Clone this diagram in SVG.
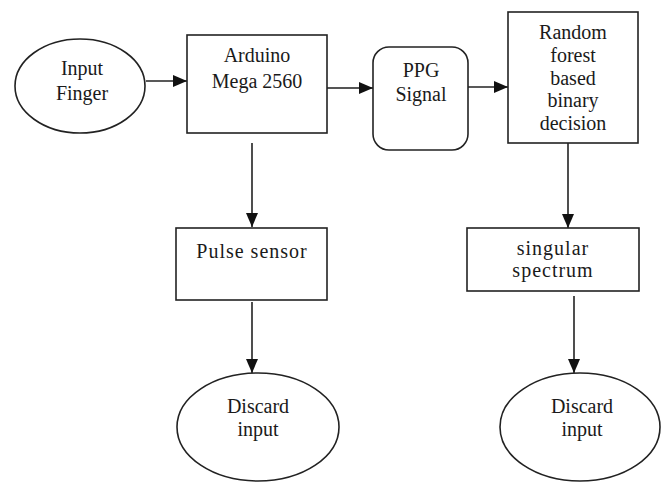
<svg xmlns="http://www.w3.org/2000/svg" width="668" height="482" viewBox="0 0 668 482">
<style>
.shape{fill:#fff;stroke:#222;stroke-width:1.6}
text{font-family:'Liberation Serif','DejaVu Serif',serif;font-size:20px;fill:#1a1a1a;text-anchor:middle}
.ls{letter-spacing:1px}
.c{fill:none;stroke:#222;stroke-width:1.6}
</style>
<defs>
<marker id="ah" markerUnits="userSpaceOnUse" markerWidth="14" markerHeight="14" viewBox="0 0 14 14" refX="14" refY="7" orient="auto">
<path d="M0,1 L14,7 L0,13 Z" fill="#111"/>
</marker>
</defs>
<rect width="668" height="482" fill="#fff"/>
<g id="connectors">
<line class="c" x1="146" y1="81" x2="187" y2="81" marker-end="url(#ah)"/>
<line class="c" x1="327" y1="88" x2="373" y2="88" marker-end="url(#ah)" style="stroke:#555;stroke-width:2"/>
<line class="c" x1="468" y1="87" x2="508" y2="87" marker-end="url(#ah)"/>
<line class="c" x1="252" y1="143" x2="252" y2="227" marker-end="url(#ah)"/>
<line class="c" x1="568" y1="143" x2="568" y2="228" marker-end="url(#ah)"/>
<line class="c" x1="252" y1="302" x2="252" y2="373" marker-end="url(#ah)"/>
<line class="c" x1="574" y1="296" x2="574" y2="373" marker-end="url(#ah)"/>
</g>
<g id="input-finger">
<ellipse class="shape" cx="80" cy="86" rx="65" ry="47"/>
<text x="82" y="75" font-family="Liberation Serif, serif">Input</text>
<text x="82" y="100" font-family="Liberation Serif, serif">Finger</text>
</g>
<g id="arduino">
<rect class="shape" x="187" y="35" width="140" height="98"/>
<text x="257" y="62">Arduino</text>
<text x="257" y="88">Mega 2560</text>
</g>
<g id="ppg-signal">
<rect class="shape" x="373" y="47" width="95" height="103" rx="16" ry="16"/>
<text x="421" y="77">PPG</text>
<text x="421" y="101">Signal</text>
</g>
<g id="random-forest">
<rect class="shape" x="508" y="12" width="130" height="131"/>
<text x="573" y="39">Random</text>
<text x="573" y="62">forest</text>
<text x="573" y="85">based</text>
<text x="573" y="107">binary</text>
<text x="573" y="130">decision</text>
</g>
<g id="pulse-sensor">
<rect class="shape" x="176" y="228" width="151" height="72"/>
<text class="ls" x="252" y="258">Pulse sensor</text>
</g>
<g id="singular-spectrum">
<rect class="shape" x="467" y="228" width="172" height="63"/>
<text class="ls" x="553" y="255">singular</text>
<text class="ls" x="553" y="277">spectrum</text>
</g>
<g id="discard-1">
<ellipse class="shape" cx="258" cy="427" rx="81" ry="54"/>
<text x="258" y="413">Discard</text>
<text x="258" y="436">input</text>
</g>
<g id="discard-2">
<ellipse class="shape" cx="580" cy="427" rx="80" ry="54"/>
<text x="582" y="413">Discard</text>
<text x="582" y="436">input</text>
</g>
</svg>
